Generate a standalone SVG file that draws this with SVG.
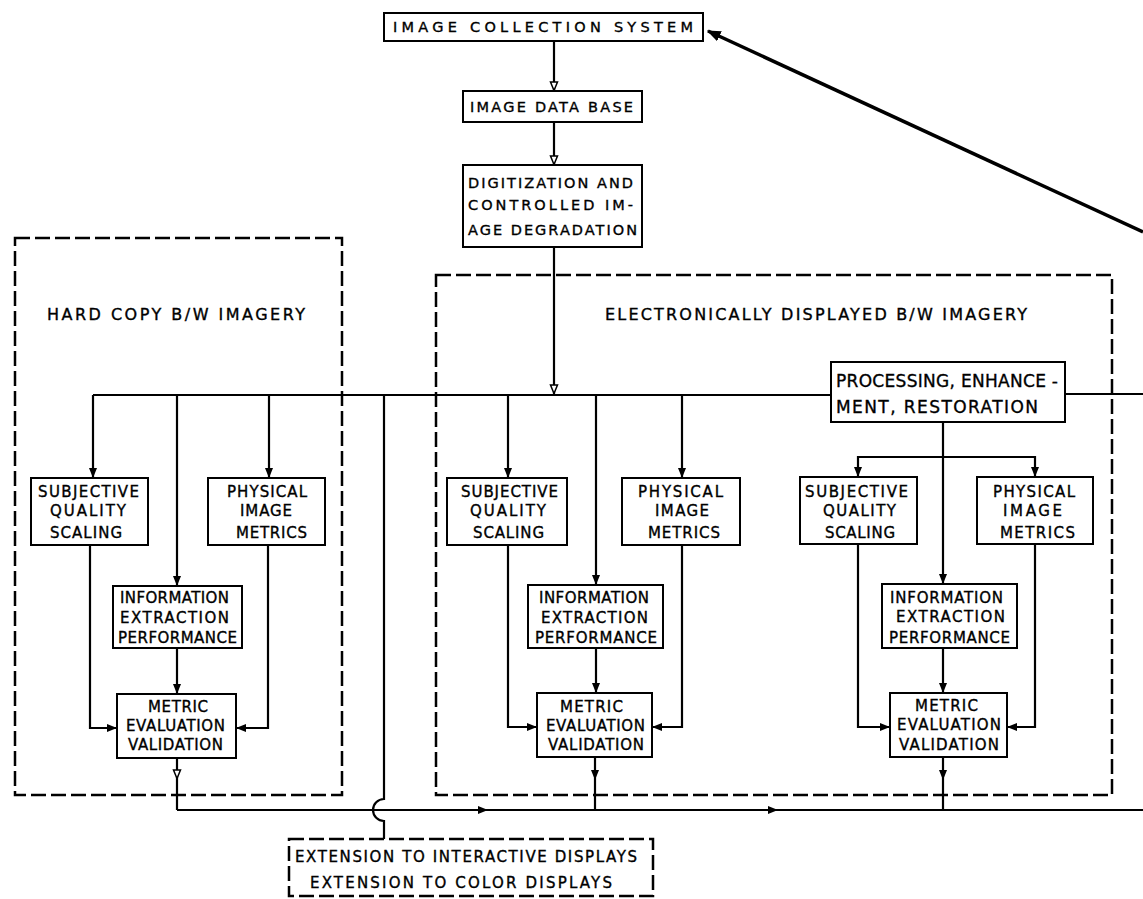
<svg xmlns="http://www.w3.org/2000/svg" width="1143" height="899" viewBox="0 0 1143 899">
<defs>
<style>
.box{fill:#fff;stroke:#000;stroke-width:2}
.dash{fill:none;stroke:#000;stroke-width:2.5;stroke-dasharray:15 5}
.ln{fill:none;stroke:#000;stroke-width:2.2}
text{font-family:"DejaVu Sans","Liberation Sans",Arial,sans-serif;font-size:15px;fill:#000;stroke:#000;stroke-width:0.35;text-anchor:middle}
.top{font-size:14.5px}
.lbl{font-size:16px}
.big{font-size:17px;text-anchor:start}
</style>
<marker id="af" viewBox="0 0 10 10" refX="10" refY="5" markerWidth="10" markerHeight="10" markerUnits="userSpaceOnUse" orient="auto"><path d="M0,1 L10,5 L0,9 z" fill="#000"/></marker>
<marker id="ah" viewBox="0 0 10 10" refX="10" refY="5" markerWidth="10" markerHeight="10" markerUnits="userSpaceOnUse" orient="auto"><path d="M1,1.5 L9.5,5 L1,8.5 z" fill="#fff" stroke="#000" stroke-width="1.5"/></marker>
<marker id="ab" viewBox="0 0 10 10" refX="9" refY="5" markerWidth="14" markerHeight="14" markerUnits="userSpaceOnUse" orient="auto"><path d="M0,1 L10,5 L0,9 z" fill="#000"/></marker>
</defs>

<g id="groups">
<rect id="hardcopy-region" class="dash" x="15" y="238" width="327" height="557"/>
<rect id="electronic-region" class="dash" x="436" y="275" width="676" height="520"/>
<text class="lbl" x="176" y="320" textLength="258" lengthAdjust="spacing">HARD COPY B/W IMAGERY</text>
<text class="lbl" x="816" y="320" textLength="422" lengthAdjust="spacing">ELECTRONICALLY DISPLAYED B/W IMAGERY</text>
</g>

<g id="connectors">
<path class="ln" d="M554,41 L554,91" marker-end="url(#ah)"/>
<path class="ln" d="M554,122 L554,165" marker-end="url(#ah)"/>
<path class="ln" d="M554,247 L554,394" marker-end="url(#ah)"/>
<path class="ln" d="M93,395 L831,395"/>
<path class="ln" d="M1065,394 L1143,394"/>
<path class="ln" d="M93,395 L93,478" marker-end="url(#af)"/>
<path class="ln" d="M177,395 L177,586" marker-end="url(#af)"/>
<path class="ln" d="M269,395 L269,478" marker-end="url(#af)"/>
<path class="ln" d="M508,395 L508,478" marker-end="url(#af)"/>
<path class="ln" d="M596,395 L596,585" marker-end="url(#af)"/>
<path class="ln" d="M682,395 L682,478" marker-end="url(#af)"/>
<path class="ln" d="M384,395 L384,799 A11,11 0 0 0 384,821 L384,839"/>
<path class="ln" d="M943,422 L943,584" marker-end="url(#af)"/>
<path class="ln" d="M943,457 L858,457 L858,477" marker-end="url(#af)"/>
<path class="ln" d="M943,457 L1035,457 L1035,477" marker-end="url(#af)"/>
<path class="ln" d="M90,545 L90,728 L117,728" marker-end="url(#af)"/>
<path class="ln" d="M268,545 L268,728 L236,728" marker-end="url(#af)"/>
<path class="ln" d="M177,648 L177,694" marker-end="url(#af)"/>
<path class="ln" d="M177,758 L177,779" marker-end="url(#ah)"/>
<path class="ln" d="M177,779 L177,810"/>
<path class="ln" d="M508,545 L508,727 L537,727" marker-end="url(#af)"/>
<path class="ln" d="M682,545 L682,727 L652,727" marker-end="url(#af)"/>
<path class="ln" d="M596,648 L596,693" marker-end="url(#af)"/>
<path class="ln" d="M595,757 L595,780" marker-end="url(#af)"/>
<path class="ln" d="M595,780 L595,810"/>
<path class="ln" d="M858,544 L858,727 L890,727" marker-end="url(#af)"/>
<path class="ln" d="M1035,544 L1035,727 L1007,727" marker-end="url(#af)"/>
<path class="ln" d="M943,648 L943,693" marker-end="url(#af)"/>
<path class="ln" d="M943,757 L943,780" marker-end="url(#af)"/>
<path class="ln" d="M943,780 L943,810"/>
<path class="ln" d="M177,810 L488,810" marker-end="url(#af)"/>
<path class="ln" d="M488,810 L778,810" marker-end="url(#af)"/>
<path class="ln" d="M778,810 L1143,810"/>
<path fill="none" stroke="#000" stroke-width="3.5" d="M1143,232 L708,31" marker-end="url(#ab)"/>
</g>

<g id="image-collection-system">
<rect class="box" x="384" y="13" width="319" height="28"/>
<text class="top" x="543" y="32" textLength="300" lengthAdjust="spacing">IMAGE COLLECTION SYSTEM</text>
</g>
<g id="image-data-base">
<rect class="box" x="463" y="91" width="179" height="31"/>
<text class="top" x="551.5" y="112" textLength="163" lengthAdjust="spacing">IMAGE DATA BASE</text>
</g>
<g id="digitization">
<rect class="box" x="463" y="165" width="179" height="82"/>
<text class="top" x="550.5" y="188" textLength="165" lengthAdjust="spacing">DIGITIZATION AND</text>
<text class="top" x="550.5" y="210" textLength="165" lengthAdjust="spacing">CONTROLLED IM-</text>
<text class="top" x="552.5" y="235" textLength="169" lengthAdjust="spacing">AGE DEGRADATION</text>
</g>
<g id="processing">
<rect class="box" x="831" y="362" width="234" height="60"/>
<text class="big" x="836" y="387" textLength="222" lengthAdjust="spacing">PROCESSING, ENHANCE -</text>
<text class="big" x="836" y="413" textLength="202" lengthAdjust="spacing">MENT, RESTORATION</text>
</g>

<g id="hc-subjective">
<rect class="box" x="31" y="478" width="117" height="67"/>
<text x="88.5" y="497" textLength="101" lengthAdjust="spacing">SUBJECTIVE</text>
<text x="88" y="516" textLength="76" lengthAdjust="spacing">QUALITY</text>
<text x="86" y="538" textLength="72" lengthAdjust="spacing">SCALING</text>
</g>
<g id="hc-physical">
<rect class="box" x="208" y="478" width="117" height="67"/>
<text x="267" y="497" textLength="80" lengthAdjust="spacing">PHYSICAL</text>
<text x="266" y="516" textLength="52" lengthAdjust="spacing">IMAGE</text>
<text x="271.5" y="538" textLength="71" lengthAdjust="spacing">METRICS</text>
</g>
<g id="hc-information">
<rect class="box" x="113" y="586" width="129" height="62"/>
<text x="174.5" y="603" textLength="109" lengthAdjust="spacing">INFORMATION</text>
<text x="174.5" y="623" textLength="109" lengthAdjust="spacing">EXTRACTION</text>
<text x="177.5" y="643" textLength="119" lengthAdjust="spacing">PERFORMANCE</text>
</g>
<g id="hc-metric">
<rect class="box" x="117" y="694" width="119" height="64"/>
<text x="178" y="712" textLength="60" lengthAdjust="spacing">METRIC</text>
<text x="175.5" y="731" textLength="99" lengthAdjust="spacing">EVALUATION</text>
<text x="175.5" y="750" textLength="95" lengthAdjust="spacing">VALIDATION</text>
</g>

<g id="ed-subjective">
<rect class="box" x="447" y="478" width="120" height="67"/>
<text x="509.5" y="497" textLength="97" lengthAdjust="spacing">SUBJECTIVE</text>
<text x="508" y="516" textLength="76" lengthAdjust="spacing">QUALITY</text>
<text x="508.5" y="538" textLength="71" lengthAdjust="spacing">SCALING</text>
</g>
<g id="ed-physical">
<rect class="box" x="622" y="478" width="118" height="67"/>
<text x="680.5" y="497" textLength="85" lengthAdjust="spacing">PHYSICAL</text>
<text x="682" y="516" textLength="54" lengthAdjust="spacing">IMAGE</text>
<text x="684" y="538" textLength="72" lengthAdjust="spacing">METRICS</text>
</g>
<g id="ed-information">
<rect class="box" x="528" y="585" width="135" height="63"/>
<text x="594" y="603" textLength="110" lengthAdjust="spacing">INFORMATION</text>
<text x="594.5" y="623" textLength="107" lengthAdjust="spacing">EXTRACTION</text>
<text x="596" y="643" textLength="122" lengthAdjust="spacing">PERFORMANCE</text>
</g>
<g id="ed-metric">
<rect class="box" x="537" y="693" width="115" height="64"/>
<text x="591.5" y="712" textLength="63" lengthAdjust="spacing">METRIC</text>
<text x="595.5" y="731" textLength="99" lengthAdjust="spacing">EVALUATION</text>
<text x="596" y="750" textLength="96" lengthAdjust="spacing">VALIDATION</text>
</g>

<g id="pr-subjective">
<rect class="box" x="800" y="477" width="117" height="67"/>
<text x="856.5" y="497" textLength="103" lengthAdjust="spacing">SUBJECTIVE</text>
<text x="859.5" y="516" textLength="73" lengthAdjust="spacing">QUALITY</text>
<text x="860" y="538" textLength="70" lengthAdjust="spacing">SCALING</text>
</g>
<g id="pr-physical">
<rect class="box" x="977" y="477" width="116" height="67"/>
<text x="1034" y="497" textLength="82" lengthAdjust="spacing">PHYSICAL</text>
<text x="1032.5" y="516" textLength="59" lengthAdjust="spacing">IMAGE</text>
<text x="1037.5" y="538" textLength="75" lengthAdjust="spacing">METRICS</text>
</g>
<g id="pr-information">
<rect class="box" x="882" y="584" width="135" height="64"/>
<text x="946.5" y="603" textLength="113" lengthAdjust="spacing">INFORMATION</text>
<text x="950.5" y="622" textLength="109" lengthAdjust="spacing">EXTRACTION</text>
<text x="949.5" y="643" textLength="121" lengthAdjust="spacing">PERFORMANCE</text>
</g>
<g id="pr-metric">
<rect class="box" x="890" y="693" width="117" height="64"/>
<text x="946.5" y="711" textLength="63" lengthAdjust="spacing">METRIC</text>
<text x="949" y="730" textLength="104" lengthAdjust="spacing">EVALUATION</text>
<text x="949" y="750" textLength="100" lengthAdjust="spacing">VALIDATION</text>
</g>

<g id="extensions">
<rect class="dash" x="289" y="839" width="364" height="57"/>
<text x="466" y="862" textLength="342" lengthAdjust="spacing">EXTENSION TO INTERACTIVE DISPLAYS</text>
<text x="461" y="888" textLength="302" lengthAdjust="spacing">EXTENSION TO COLOR DISPLAYS</text>
</g>
</svg>
